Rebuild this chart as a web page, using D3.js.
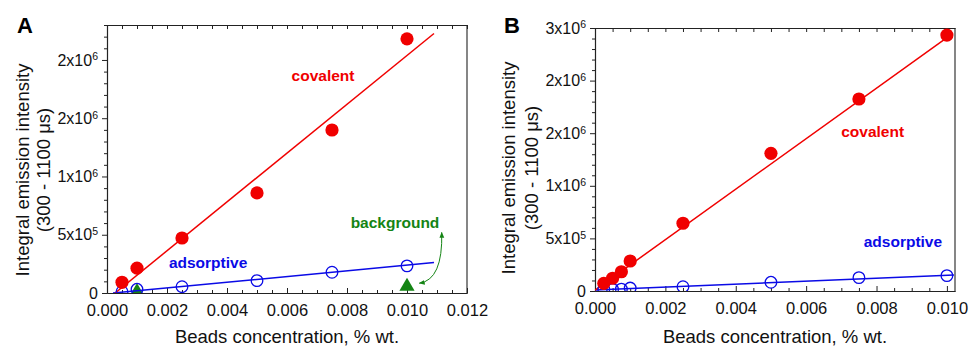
<!DOCTYPE html>
<html>
<head>
<meta charset="utf-8">
<script src="https://cdn.jsdelivr.net/npm/d3@7"></script>
<style>
  body { margin: 0; background: #fff; }
  svg text { font-family: "Liberation Sans", Arial, sans-serif; }
</style>
</head>
<body>
<div id="chart"></div>
<script>
// ── Data ──────────────────────────────────────────────────────────────────
const concA       = [0.0005, 0.001, 0.0025, 0.005, 0.0075, 0.01];
const covalentA   = [92000, 213000, 472000, 859000, 1399000, 2181000];
const adsorptiveA = [11000, 32000, 54000, 106000, 178000, 233000];
const bgConcA     = [0.001, 0.01];
const backgroundA = [10000, 56000];

const concB       = [0.00025, 0.0005, 0.00075, 0.001, 0.0025, 0.005, 0.0075, 0.01];
const covalentB   = [73000, 121000, 183000, 285000, 644000, 1309000, 1825000, 2433000];
const adsorptiveB = [16000, 16000, 18000, 28000, 41000, 83000, 127000, 146000];

// linear fits: [slope, intercept, xStart, xEnd]
const covalentFitA   = [2.095e8, -56500, 0.00027, 0.0109];
const adsorptiveFitA = [2.44e7, -4900, 0.0002, 0.0109];
const covalentFitB   = [2.40e8, 8000, 0, 0.01015];
const adsorptiveFitB = [1.39e7, 9500, 0, 0.0102];

const xTicksA = [0, 0.002, 0.004, 0.006, 0.008, 0.010, 0.012];
const xTicksB = [0, 0.002, 0.004, 0.006, 0.008, 0.010];
const yTicksA = [0, 5e5, 1e6, 1.5e6, 2e6];
const yTickLabelsA = ["0", "5x10^5", "1x10^6", "2x10^6", "2x10^6"];
const yTicksB = [0, 5e5, 1e6, 1.5e6, 2e6, 2.5e6];
const yTickLabelsB = ["0", "5x10^5", "1x10^6", "2x10^6", "2x10^6", "3x10^6"];

const RED   = "#f00000";
const BLUE  = "#0a0ae6";
const GREEN = "#148414";

const W = 969, H = 347;

const svg = d3.select("#chart").append("svg")
  .attr("width", W).attr("height", H);

const defs = svg.append("defs");
defs.append("marker")
  .attr("id", "arrowhead")
  .attr("viewBox", "0 0 10 10")
  .attr("refX", 9).attr("refY", 5)
  .attr("markerWidth", 6).attr("markerHeight", 6)
  .attr("markerUnits", "userSpaceOnUse")
  .attr("orient", "auto-start-reverse")
  .append("path")
    .attr("d", "M0,1 L10,5 L0,9 z")
    .attr("fill", GREEN);

function drawPanel(cfg) {
  const g = svg.append("g");
  const x = d3.scaleLinear().domain([0, cfg.xMax]).range([cfg.left, cfg.right]);
  const y = d3.scaleLinear().domain([0, cfg.yMax]).range([cfg.bottom, cfg.top]);

  const clipId = "clip-" + cfg.name;
  defs.append("clipPath").attr("id", clipId)
    .append("rect")
      .attr("x", cfg.left).attr("y", cfg.top)
      .attr("width", cfg.right - cfg.left).attr("height", cfg.bottom - cfg.top);

  // minor ticks
  const xMinor = d3.range(0, cfg.xMax + 1e-9, 0.0005)
    .filter(v => !cfg.xTicks.some(t => Math.abs(t - v) < 1e-9));
  const yMinor = d3.range(0, cfg.yMax + 1, 1e5)
    .filter(v => !cfg.yTicks.some(t => Math.abs(t - v) < 1));

  g.append("g")
    .attr("transform", `translate(0,${cfg.bottom})`)
    .call(d3.axisBottom(x).tickValues(xMinor).tickSize(-3).tickFormat("").tickSizeOuter(0));
  g.append("g")
    .attr("transform", `translate(${cfg.left},0)`)
    .call(d3.axisLeft(y).tickValues(yMinor).tickSize(3).tickFormat("").tickSizeOuter(0));
  g.append("g")
    .attr("transform", `translate(0,${cfg.top})`)
    .call(d3.axisTop(x).tickValues(d3.range(0, cfg.xMax + 1e-9, 0.0005)).tickSize(-4).tickFormat("").tickSizeOuter(0));

  // major axes
  const xAxis = g.append("g")
    .attr("transform", `translate(0,${cfg.bottom})`)
    .call(d3.axisBottom(x).tickValues(cfg.xTicks).tickSize(-5).tickPadding(11)
      .tickFormat(d3.format(".3f")).tickSizeOuter(0));
  xAxis.selectAll("text").attr("font-size", 16.5).attr("fill", "#111");

  const yAxis = g.append("g")
    .attr("transform", `translate(${cfg.left},0)`)
    .call(d3.axisLeft(y).tickValues(cfg.yTicks).tickSize(5).tickPadding(4).tickSizeOuter(0));
  yAxis.selectAll("text")
    .attr("font-size", 16)
    .attr("fill", "#111")
    .each(function(d, i) {
      const parts = cfg.yLabels[i].split("^");
      const t = d3.select(this).text(parts[0]);
      if (parts[1]) {
        t.append("tspan").attr("dy", "-0.5em").attr("font-size", 10.5).text(parts[1]);
      }
    });

  // right frame line
  g.append("line")
    .attr("x1", cfg.right).attr("x2", cfg.right)
    .attr("y1", cfg.top).attr("y2", cfg.bottom);

  g.selectAll(".domain").attr("stroke", "#222").attr("stroke-width", 1.1);
  g.selectAll(".tick line").attr("stroke", "#222");
  g.selectAll("line").filter(function() { return !this.closest(".tick"); })
    .attr("stroke", "#222").attr("stroke-width", 1.1);

  // axis titles
  g.append("text")
    .attr("x", (cfg.left + cfg.right) / 2).attr("y", 343)
    .attr("text-anchor", "middle").attr("font-size", 18.5).attr("fill", "#111")
    .text("Beads concentration, % wt.");

  const yt = g.append("text")
    .attr("transform", `translate(${cfg.yTitleX},${cfg.yTitleY}) rotate(-90)`)
    .attr("text-anchor", "middle").attr("font-size", 18.5).attr("fill", "#111");
  yt.append("tspan").attr("x", 0).attr("y", 0).text("Integral emission intensity");
  yt.append("tspan").attr("x", 0).attr("y", cfg.yTitleGap).text("(300 - 1100 μs)");

  g.append("text")
    .attr("x", cfg.letterX).attr("y", 33)
    .attr("text-anchor", "middle").attr("font-size", 22).attr("font-weight", "bold")
    .attr("fill", "#000").text(cfg.name);

  // data layer
  const plot = g.append("g").attr("clip-path", `url(#${clipId})`);

  if (cfg.bgConc) {
    const tri = d3.symbol().type(d3.symbolTriangle).size(100);
    plot.selectAll(".bg")
      .data(cfg.bgConc.map((c, i) => [c, cfg.background[i]]))
      .join("path")
        .attr("transform", d => `translate(${x(d[0])},${y(d[1])})`)
        .attr("d", tri)
        .attr("fill", GREEN);
  }

  const fitLine = f => [[f[2], f[0] * f[2] + f[1]], [f[3], f[0] * f[3] + f[1]]];
  const line = d3.line().x(d => x(d[0])).y(d => y(d[1]));

  plot.append("path").datum(fitLine(cfg.adsFit))
    .attr("d", line).attr("fill", "none").attr("stroke", BLUE).attr("stroke-width", 1.5);
  plot.append("path").datum(fitLine(cfg.covFit))
    .attr("d", line).attr("fill", "none").attr("stroke", RED).attr("stroke-width", 1.5);

  plot.selectAll(".ads")
    .data(cfg.conc.map((c, i) => [c, cfg.ads[i]]))
    .join("circle")
      .attr("cx", d => x(d[0])).attr("cy", d => y(d[1]))
      .attr("r", 5.8)
      .attr("fill", "none").attr("stroke", BLUE).attr("stroke-width", 1.3);

  plot.selectAll(".cov")
    .data(cfg.conc.map((c, i) => [c, cfg.cov[i]]))
    .join("circle")
      .attr("cx", d => x(d[0])).attr("cy", d => y(d[1]))
      .attr("r", 6.6)
      .attr("fill", RED);

  // series labels
  cfg.labels.forEach(l => {
    g.append("text")
      .attr("x", x(l.x)).attr("y", y(l.y))
      .attr("text-anchor", "middle")
      .attr("font-size", 15.5).attr("font-weight", "bold")
      .attr("fill", l.color).text(l.text);
  });

  return { x, y, g };
}

const pA = drawPanel({
  name: "A", left: 107, right: 467, top: 25, bottom: 293,
  xMax: 0.012, yMax: 2.3e6,
  xTicks: xTicksA, yTicks: yTicksA, yLabels: yTickLabelsA,
  conc: concA, cov: covalentA, ads: adsorptiveA,
  covFit: covalentFitA, adsFit: adsorptiveFitA,
  bgConc: bgConcA, background: backgroundA,
  yTitleX: 29, yTitleY: 170, yTitleGap: 21, letterX: 25,
  labels: [
    { text: "covalent",   x: 0.0072,  y: 1.82e6, color: RED },
    { text: "adsorptive", x: 0.00337, y: 215000, color: BLUE },
    { text: "background", x: 0.0096,  y: 560000, color: GREEN }
  ]
});

// curved double arrow linking "background" label to the triangles
pA.g.append("path")
  .attr("d", () => {
    const p = d3.path();
    p.moveTo(pA.x(0.011157), pA.y(520000));
    p.quadraticCurveTo(pA.x(0.0112), pA.y(112000), pA.x(0.01041), pA.y(84000));
    return p.toString();
  })
  .attr("fill", "none").attr("stroke", GREEN).attr("stroke-width", 1)
  .attr("marker-start", "url(#arrowhead)")
  .attr("marker-end", "url(#arrowhead)");

drawPanel({
  name: "B", left: 595, right: 955, top: 28, bottom: 291,
  xMax: 0.01023, yMax: 2.5e6,
  xTicks: xTicksB, yTicks: yTicksB, yLabels: yTickLabelsB,
  conc: concB, cov: covalentB, ads: adsorptiveB,
  covFit: covalentFitB, adsFit: adsorptiveFitB,
  yTitleX: 515, yTitleY: 168, yTitleGap: 23, letterX: 512,
  labels: [
    { text: "covalent",   x: 0.00789, y: 1.464e6, color: RED },
    { text: "adsorptive", x: 0.00875, y: 421000,  color: BLUE }
  ]
});
</script>
</body>
</html>
